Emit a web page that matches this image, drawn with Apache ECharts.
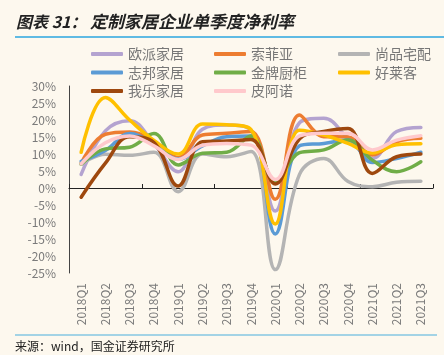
<!DOCTYPE html>
<html><head><meta charset="utf-8">
<script src="https://cdn.jsdelivr.net/npm/echarts@6/dist/echarts.min.js"></script>
<style>html,body{margin:0;padding:0;background:#FDF8EE;}#c{width:444px;height:355px;}</style>
</head><body><div id="c"></div>
<script>
const categories = ['2018Q1','2018Q2','2018Q3','2018Q4','2019Q1','2019Q2','2019Q3','2019Q4','2020Q1','2020Q2','2020Q3','2020Q4','2021Q1','2021Q2','2021Q3'];
const oupai   = [4.0, 16.8, 19.8, 13.0, 4.8, 17.3, 18.5, 17.0, -6.8, 19.2, 20.5, 14.6, 8.7, 16.6, 17.8];
const sofia   = [7.3, 15.8, 16.5, 13.6, 9.0, 15.6, 16.1, 16.6, -3.3, 21.5, 15.1, 15.0, 9.7, 13.6, 14.6];
const shangpin= [7.0, 9.9, 9.6, 10.5, -1.1, 10.0, 9.2, 10.7, -24.0, 4.0, 8.7, 1.9, 0.4, 1.7, 2.0];
const zhibang = [7.8, 11.0, 16.0, 13.0, 8.5, 12.4, 15.1, 15.3, -13.5, 12.4, 13.1, 14.1, 7.5, 8.7, 10.5];
const jinpai  = [7.0, 11.5, 12.0, 16.0, 6.8, 10.2, 10.5, 15.3, 1.8, 10.4, 11.2, 14.1, 8.2, 4.8, 7.7];
const haolaike= [10.5, 26.6, 20.0, 14.0, 10.0, 18.8, 18.6, 17.2, -10.6, 17.0, 15.6, 13.1, 10.3, 12.7, 13.0];
const wole    = [-2.7, 7.3, 15.1, 13.4, 0.6, 13.6, 13.8, 14.3, 1.2, 14.5, 16.6, 17.5, 4.3, 9.2, 10.0];
const piano   = [7.1, 13.3, 15.3, 12.4, 8.4, 12.6, 13.1, 12.6, 2.5, 15.3, 16.1, 16.1, 11.2, 14.1, 15.4];
const seriesNames = ['欧派家居','索菲亚','尚品宅配','志邦家居','金牌厨柜','好莱客','我乐家居','皮阿诺'];
const seriesData = [oupai, sofia, shangpin, zhibang, jinpai, haolaike, wole, piano];
const seriesColors = ['#B4A3D0','#ED7D31','#B4B4B4','#5B9BD5','#70AD47','#FFC000','#9E480E','#FFC9CC'];
const yMin = -25, yMax = 30, yStep = 5;

const font = '"Noto Sans CJK SC", "Noto Sans", sans-serif';
const chart = echarts.init(document.getElementById('c'), null, {renderer:'canvas'});
const legendCommon = {
  orient:'vertical', top:42, itemWidth:32, itemHeight:4, itemGap:4.5, icon:'roundRect',
  textStyle:{fontSize:14, color:'#777777', fontFamily:font}, selectedMode:false
};
chart.setOption({
  backgroundColor:'#FDF8EE',
  animation:false,
  grid:{left:69, right:11, top:86, bottom:82},
  legend:[
    Object.assign({left:86, data:['欧派家居','志邦家居','我乐家居']}, legendCommon),
    Object.assign({left:209, data:['索菲亚','金牌厨柜','皮阿诺']}, legendCommon),
    Object.assign({left:333, data:['尚品宅配','好莱客']}, legendCommon)
  ],
  xAxis:[
    {type:'category', data:categories, boundaryGap:true, position:'bottom',
     axisLine:{show:false, onZero:false}, axisTick:{show:false},
     axisLabel:{rotate:90, margin:10, fontSize:12, color:'#7A7A7A', fontFamily:font}},
    {type:'category', data:categories, boundaryGap:true, position:'bottom',
     axisLine:{show:true, onZero:true, lineStyle:{color:'#222', width:1.2}},
     axisTick:{show:true, inside:true, length:4, lineStyle:{color:'#222'}},
     axisLabel:{show:false}}
  ],
  yAxis:{type:'value', min:yMin, max:yMax, interval:yStep,
    splitLine:{show:false},
    axisLine:{show:true, lineStyle:{color:'#444', width:1}},
    axisTick:{show:false},
    axisLabel:{formatter:'{value}%', margin:13, fontSize:12, color:'#7A7A7A', fontFamily:font}},
  series: seriesNames.map((n,i)=>({
    name:n, type:'line', smooth:0.4, showSymbol:false, symbol:'none',
    data:seriesData[i], xAxisIndex:0,
    itemStyle:{color:seriesColors[i]},
    lineStyle:{color:seriesColors[i], width:3.5, cap:'round', join:'round'}
  })),
  graphic:[
    {type:'text', left:16, top:14, style:{text:'图表 31：', font:'italic bold 16px '+font, fill:'#222'}},
    {type:'text', left:90, top:13, style:{text:'定制家居企业单季度净利率', font:'italic bold 17px '+font, fill:'#222'}},
    {type:'line', shape:{x1:15, y1:37, x2:444, y2:37}, style:{stroke:'#2AA6DF', lineWidth:1.5}},
    {type:'line', shape:{x1:15, y1:335, x2:437, y2:335}, style:{stroke:'#4AAEDC', lineWidth:1.2}},
    {type:'text', left:15, top:340, style:{text:'来源：wind，国金证券研究所', font:'12px '+font, fill:'#222'}}
  ]
});
</script></body></html>
